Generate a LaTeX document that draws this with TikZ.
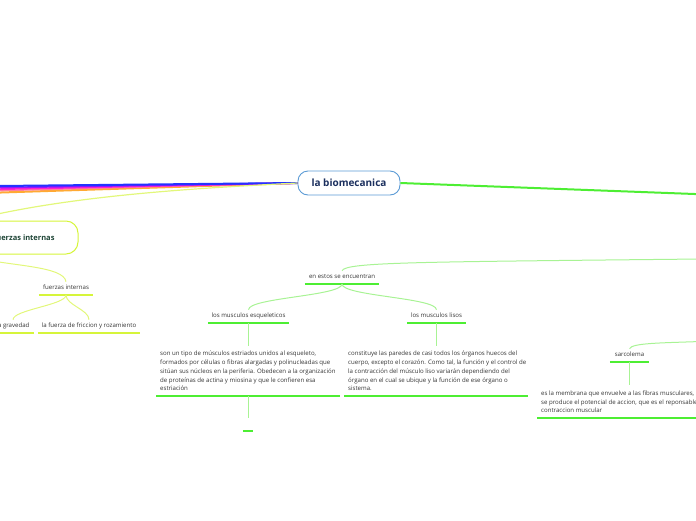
\documentclass[tikz,border=0pt]{standalone}
\usepackage{fontspec}
\setmainfont{Open Sans}
\definecolor{cblue}{HTML}{5B9BD5}
\definecolor{navy}{HTML}{1B2F5E}
\definecolor{gbright}{HTML}{4DEE33}
\definecolor{glight}{HTML}{A8F394}
\definecolor{ybright}{HTML}{D6F53A}
\definecolor{ylight}{HTML}{E2F77A}
\definecolor{txt}{HTML}{333333}
\definecolor{dkgreen}{HTML}{1E4536}
\definecolor{lblue}{HTML}{2233FF}
\definecolor{lpurple}{HTML}{9A10FF}
\definecolor{lmagenta}{HTML}{FF22CC}
\definecolor{lpink}{HTML}{FF7FA0}
\definecolor{lorange}{HTML}{FFAA33}
\begin{document}
\begin{tikzpicture}[x=1pt,y=-1pt,
  rootbox/.style={draw=cblue, line width=0.9pt, rounded corners=10pt, fill=white,
    minimum width=102pt, minimum height=24pt, inner sep=0pt,
    font=\fontsize{10}{11}\selectfont\bfseries, text=navy},
  bigbox/.style={draw=ybright, line width=1pt, rounded corners=12pt, fill=white,
    minimum width=108pt, minimum height=33pt, inner sep=0pt,
    font=\fontsize{7.5}{8.5}\selectfont\bfseries, text=dkgreen},
  small/.style={font=\fontsize{6.1}{8.7}\selectfont, text=txt},
  topic/.style={small, text height=4.4pt, text depth=1.5pt, inner ysep=3.5pt, inner xsep=0pt, anchor=south},
  para/.style={small, align=left, inner xsep=4pt, inner ysep=5pt, anchor=south west},
  ug/.style={draw=gbright, line width=2pt},
  uy/.style={draw=ybright, line width=2pt},
  cg/.style={draw=glight, line width=1pt},
  cy/.style={draw=ylight, line width=1pt}]
\useasboundingbox (0,0) rectangle (696,520);
\clip (0,0) rectangle (696,520);

% root
\node[rootbox] (root) at (349,183) {la biomecanica};

% left coloured branches
\coordinate (Lo) at (-2,192.6);
\coordinate (Lk) at (-2,190.6);
\coordinate (Lm) at (-2,189.2);
\coordinate (Lp) at (-2,187.6);
\coordinate (Lb) at (-2,186);
\draw[lorange, line width=2pt] (root.west) -- (Lo);
\draw[lpink, line width=1.6pt] (root.west) -- (Lk);
\draw[lmagenta, line width=1.8pt] (root.west) -- (Lm);
\draw[lpurple, line width=1.8pt] (root.west) -- (Lp);
\draw[lblue, line width=2pt] (root.west) -- (Lb);

% right main branch
\coordinate (R) at (700,194.2);
\draw[gbright, line width=2pt] (root.east) -- (R);

% fuerzas internas (left)
\node[bigbox] (fi) at (24,237.5) {fuerzas internas};
\draw[cy, line width=1.2pt] (root.west) .. controls (200,188) and (70,195) .. (fi.north west);
\coordinate (fiout) at (-22,258);
\node[topic, minimum width=54pt] (fi2) at (66,295) {fuerzas internas};
\draw[uy] (fi2.south west) -- (fi2.south east);
\draw[cy] (fiout) .. controls (10,266) and (64,266) .. (fi2.north);

\node[topic, minimum width=42pt] (grav) at (13,333) {la gravedad};
\draw[uy] (grav.south west) -- (grav.south east);
\node[topic, minimum width=102pt] (fric) at (89,333) {la fuerza de friccion y rozamiento};
\draw[uy] (fric.south west) -- (fric.south east);
\draw[cy] (fi2.south) .. controls +(0,10) and +(0,-10) .. (grav.north);
\draw[cy] (fi2.south) .. controls +(0,10) and +(0,-10) .. (fric.north);

% en estos se encuentran
\coordinate (encIn) at (700,259);
\node[topic, minimum width=74pt] (enc) at (342,284) {en estos se encuentran};
\draw[ug] (enc.south west) -- (enc.south east);
\draw[cg] (encIn) .. controls (420,262) and (346,262) .. (enc.north);

\node[topic, minimum width=81pt] (esq) at (248.5,323) {los musculos esqueleticos};
\draw[ug] (esq.south west) -- (esq.south east);
\node[topic, minimum width=59pt] (lis) at (436.5,323) {los musculos lisos};
\draw[ug] (lis.south west) -- (lis.south east);
\draw[cg] (enc.south) .. controls +(0,12) and +(0,-12) .. (esq.north);
\draw[cg] (enc.south) .. controls +(0,12) and +(0,-12) .. (lis.north);

\node[para] (p1) at (156,396) {son un tipo de músculos estriados unidos al esqueleto,\\
formados por células o fibras alargadas y polinucleadas que\\
sitúan sus núcleos en la periferia. Obedecen a la organización\\
de proteínas de actina y miosina y que le confieren esa\\
estriación};
\draw[ug] (p1.south west) -- ++(184,0);
\draw[cg] (esq.south) -- (esq.south |- p1.north);

\node[para] (p2) at (344,396) {constituye las paredes de casi todos los órganos huecos del\\
cuerpo, excepto el corazón. Como tal, la función y el control de\\
la contracción del músculo liso variarán dependiendo del\\
órgano en el cual se ubique y la función de ese órgano o\\
sistema.};
\draw[ug] (p2.south west) -- ++(184,0);
\draw[cg] (lis.south) -- (lis.south |- p2.north);

\node[topic, minimum width=10pt] (emp) at (248,431) {};
\draw[ug] (emp.south west) -- (emp.south east);
\draw[cg] (emp.north |- p1.south) -- (emp.north);

% sarcolema
\coordinate (sarcIn) at (700,341.5);
\node[topic, minimum width=39pt] (sarc) at (629.5,362) {sarcolema};
\draw[ug] (sarc.south west) -- (sarc.south east);
\draw[cg] (sarcIn) .. controls (660,343) and (632,343) .. (sarc.north);

\node[para] (p3) at (537,418) {es la membrana que envuelve a las fibras musculares, e\\
se produce el potencial de accion, que es el reponsable\\
contraccion muscular};
\draw[ug] (p3.south west) -- ++(170,0);
\draw[cg] (sarc.south) -- (sarc.south |- p3.north);
\end{tikzpicture}
\end{document}
